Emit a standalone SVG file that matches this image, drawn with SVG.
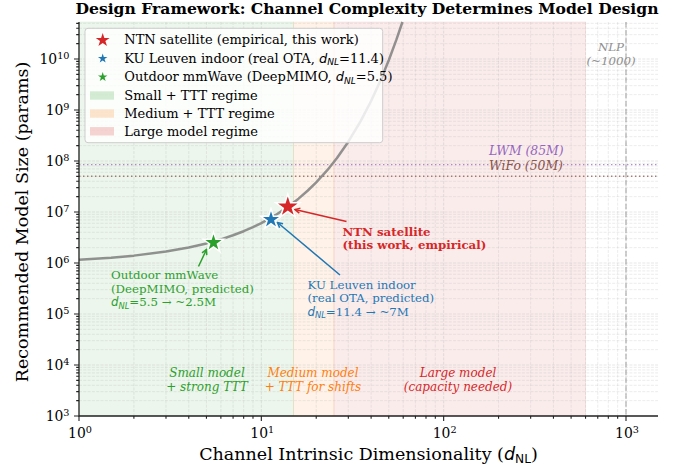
<svg xmlns="http://www.w3.org/2000/svg" width="694" height="470" viewBox="0 0 694 470">
<style>
text { font-family: "DejaVu Serif", "Liberation Serif", serif; fill: #000; }
.title { font-size: 15.6px; font-weight: bold; }
.tick { font-size: 13.9px; }
.sup { font-size: 9.7px; }
.axlab { font-size: 17.5px; }
.leg { font-size: 13px; }
.ann { font-size: 11.8px; }
.reg { font-size: 12px; font-style: italic; }
.it { font-style: italic; }
.math { font-family: "DejaVu Sans", "Liberation Sans", sans-serif; font-style: italic; }
.mrom { font-family: "DejaVu Sans", "Liberation Sans", sans-serif; }
.gmaj { stroke: #b0b0b0; stroke-opacity: 0.4; stroke-width: 0.8; stroke-dasharray: 3 1.3; fill: none; }
.gmin { stroke: #b0b0b0; stroke-opacity: 0.3; stroke-width: 0.8; stroke-dasharray: 3 1.3; fill: none; }
.tk { stroke: #222; stroke-width: 1.1; fill: none; }
.spine { stroke: #222; stroke-width: 1.3; fill: none; }
.green { fill: #2ca02c; }
.blue { fill: #1f77b4; }
.red { fill: #d62728; }
.orange { fill: #ff7f0e; }
</style>
<defs>
<path id="star" d="M0,-1 L0.2245,-0.309 L0.9511,-0.309 L0.3633,0.118 L0.5878,0.809 L0,0.382 L-0.5878,0.809 L-0.3633,0.118 L-0.9511,-0.309 L-0.2245,-0.309Z"/>
<marker id="ahR" viewBox="-7 -4 8 8" markerWidth="8" markerHeight="8" markerUnits="userSpaceOnUse" orient="auto" refX="0" refY="0"><path d="M-5,-2.6 L0,0 L-5,2.6" fill="none" stroke="#d62728" stroke-width="1.5"/></marker>
<marker id="ahB" viewBox="-7 -4 8 8" markerWidth="8" markerHeight="8" markerUnits="userSpaceOnUse" orient="auto" refX="0" refY="0"><path d="M-5,-2.6 L0,0 L-5,2.6" fill="none" stroke="#1f77b4" stroke-width="1.5"/></marker>
<marker id="ahG" viewBox="-7 -4 8 8" markerWidth="8" markerHeight="8" markerUnits="userSpaceOnUse" orient="auto" refX="0" refY="0"><path d="M-5,-2.6 L0,0 L-5,2.6" fill="none" stroke="#2ca02c" stroke-width="1.5"/></marker>
</defs>
<rect width="694" height="470" fill="#fff"/>

<g id="regions">
<rect x="79" y="22" width="214.5" height="394" fill="#2ca02c" fill-opacity="0.09" stroke="#2ca02c" stroke-opacity="0.09"/>
<rect x="293.5" y="22" width="40.4" height="394" fill="#ff7f0e" fill-opacity="0.09" stroke="#ff7f0e" stroke-opacity="0.09"/>
<rect x="333.9" y="22" width="251.6" height="394" fill="#d62728" fill-opacity="0.09" stroke="#d62728" stroke-opacity="0.09"/>
</g>

<g id="grid">
<path class="gmin" d="M79 400.65H658M79 391.67H658M79 385.29H658M79 380.35H658M79 376.31H658M79 372.9H658M79 369.94H658M79 367.33H658M79 349.65H658M79 340.67H658M79 334.29H658M79 329.35H658M79 325.31H658M79 321.9H658M79 318.94H658M79 316.33H658M79 298.65H658M79 289.67H658M79 283.29H658M79 278.35H658M79 274.31H658M79 270.9H658M79 267.94H658M79 265.33H658M79 247.65H658M79 238.67H658M79 232.29H658M79 227.35H658M79 223.31H658M79 219.9H658M79 216.94H658M79 214.33H658M79 196.65H658M79 187.67H658M79 181.29H658M79 176.35H658M79 172.31H658M79 168.9H658M79 165.94H658M79 163.33H658M79 145.65H658M79 136.67H658M79 130.29H658M79 125.35H658M79 121.31H658M79 117.9H658M79 114.94H658M79 112.33H658M79 94.65H658M79 85.67H658M79 79.29H658M79 74.35H658M79 70.31H658M79 66.9H658M79 63.94H658M79 61.33H658M79 43.65H658M79 34.67H658M79 28.29H658M79 23.35H658"/>
<path class="gmin" d="M133.89 22V416M165.99 22V416M188.78 22V416M206.44 22V416M220.88 22V416M233.09 22V416M243.66 22V416M252.99 22V416M316.22 22V416M348.32 22V416M371.11 22V416M388.77 22V416M403.21 22V416M415.42 22V416M425.99 22V416M435.32 22V416M498.55 22V416M530.65 22V416M553.44 22V416M571.1 22V416M585.54 22V416M597.75 22V416M608.32 22V416M617.65 22V416"/>
<path class="gmaj" d="M79 365H658M79 314H658M79 263H658M79 212H658M79 161H658M79 110H658M79 59H658M261.33 22V416M443.66 22V416M626 22V416"/>
</g>

<g id="reference-lines">
<line x1="79" y1="164.6" x2="658" y2="164.6" stroke="#9467bd" stroke-opacity="0.75" stroke-width="1.4" stroke-dasharray="1.4 2.6"/>
<line x1="79" y1="176.3" x2="658" y2="176.3" stroke="#8c564b" stroke-opacity="0.75" stroke-width="1.4" stroke-dasharray="1.4 2.6"/>
<line x1="626" y1="22" x2="626" y2="416" stroke="#7f7f7f" stroke-opacity="0.55" stroke-width="1.3" stroke-dasharray="5.5 2.4"/>
<text class="it" x="489" y="155" font-size="12.4" style="fill:#9467bd">LWM (85M)</text>
<text class="it" x="489" y="170" font-size="12.4" style="fill:#8c564b">WiFo (50M)</text>
<text class="it" x="611" y="51" font-size="11.8" text-anchor="middle" style="fill:#8f8f8f">NLP</text>
<text class="it" x="611" y="64.5" font-size="11.8" text-anchor="middle" style="fill:#8f8f8f">(~1000)</text>
</g>

<g id="region-labels">
<text class="reg green" x="207" y="377" text-anchor="middle">Small model</text>
<text class="reg green" x="207" y="391" text-anchor="middle">+ strong TTT</text>
<text class="reg orange" x="313" y="377" text-anchor="middle">Medium model</text>
<text class="reg orange" x="313" y="391" text-anchor="middle">+ TTT for shifts</text>
<text class="reg red" x="458" y="377" text-anchor="middle">Large model</text>
<text class="reg red" x="458" y="391" text-anchor="middle">(capacity needed)</text>
</g>

<g id="curve">
<path d="M79 259.7 L111.1 257.66 L133.89 255.63 L165.99 251.56 L188.78 247.49 L206.44 243.42 L220.88 239.35 L233.09 235.28 L243.66 231.21 L252.99 227.14 L261.33 223.07 L275.77 214.93 L287.97 206.79 L298.55 198.65 L307.87 190.51 L316.22 182.37 L327.29 170.17 L337 157.95 L348.32 141.67 L360.53 121.32 L371.11 100.97 L380.43 80.62 L388.77 60.27 L396.32 39.93 L402.42 22" fill="none" stroke="#7f7f7f" stroke-opacity="0.85" stroke-width="2.5" stroke-linejoin="round"/>
</g>

<g id="node-outdoor">
<use href="#star" transform="translate(213.5 242.7) scale(10.8)" fill="#2ca02c" stroke="#fff" stroke-width="0.14"/>
<text class="ann green" x="111" y="279">Outdoor mmWave</text>
<text class="ann green" x="111" y="292.5">(DeepMIMO, predicted)</text>
<text class="ann green" x="111" y="306"><tspan class="math">d</tspan><tspan class="math" font-size="8.3" dy="2.6">NL</tspan><tspan dy="-2.6">=5.5 → ~2.5M</tspan></text>
</g>

<g id="node-ku">
<use href="#star" transform="translate(271 219.6) scale(10.8)" fill="#1f77b4" stroke="#fff" stroke-width="0.14"/>
<text class="ann blue" x="307.5" y="288.5">KU Leuven indoor</text>
<text class="ann blue" x="307.5" y="302">(real OTA, predicted)</text>
<text class="ann blue" x="307.5" y="315.5"><tspan class="math">d</tspan><tspan class="math" font-size="8.3" dy="2.6">NL</tspan><tspan dy="-2.6">=11.4 → ~7M</tspan></text>
</g>

<g id="node-ntn">
<use href="#star" transform="translate(287.8 206.7) scale(12.6)" fill="#d62728" stroke="#fff" stroke-width="0.12"/>
<text class="ann red" x="342.5" y="236" font-weight="bold">NTN satellite</text>
<text class="ann red" x="342.5" y="249" font-weight="bold">(this work, empirical)</text>
</g>

<g id="connectors">
<line x1="346.5" y1="221.5" x2="295" y2="209.5" stroke="#d62728" stroke-width="1.5" marker-end="url(#ahR)"/>
<line x1="340" y1="275" x2="277.5" y2="222.5" stroke="#1f77b4" stroke-width="1.5" marker-end="url(#ahB)"/>
<line x1="198.5" y1="266.5" x2="206.5" y2="249.5" stroke="#2ca02c" stroke-width="1.5" marker-end="url(#ahG)"/>
</g>

<g id="axes">
<path class="spine" d="M79 22V416H658"/>
<path class="tk" d="M74 416H79M74 365H79M74 314H79M74 263H79M74 212H79M74 161H79M74 110H79M74 59H79M79 416V421M261.33 416V421M443.66 416V421M626 416V421"/>
<path class="tk" stroke-width="0.8" d="M76.2 400.65H79M76.2 391.67H79M76.2 385.29H79M76.2 380.35H79M76.2 376.31H79M76.2 372.9H79M76.2 369.94H79M76.2 367.33H79M76.2 349.65H79M76.2 340.67H79M76.2 334.29H79M76.2 329.35H79M76.2 325.31H79M76.2 321.9H79M76.2 318.94H79M76.2 316.33H79M76.2 298.65H79M76.2 289.67H79M76.2 283.29H79M76.2 278.35H79M76.2 274.31H79M76.2 270.9H79M76.2 267.94H79M76.2 265.33H79M76.2 247.65H79M76.2 238.67H79M76.2 232.29H79M76.2 227.35H79M76.2 223.31H79M76.2 219.9H79M76.2 216.94H79M76.2 214.33H79M76.2 196.65H79M76.2 187.67H79M76.2 181.29H79M76.2 176.35H79M76.2 172.31H79M76.2 168.9H79M76.2 165.94H79M76.2 163.33H79M76.2 145.65H79M76.2 136.67H79M76.2 130.29H79M76.2 125.35H79M76.2 121.31H79M76.2 117.9H79M76.2 114.94H79M76.2 112.33H79M76.2 94.65H79M76.2 85.67H79M76.2 79.29H79M76.2 74.35H79M76.2 70.31H79M76.2 66.9H79M76.2 63.94H79M76.2 61.33H79M76.2 43.65H79M76.2 34.67H79M76.2 28.29H79M76.2 23.35H79M133.89 416V418.8M165.99 416V418.8M188.78 416V418.8M206.44 416V418.8M220.88 416V418.8M233.09 416V418.8M243.66 416V418.8M252.99 416V418.8M316.22 416V418.8M348.32 416V418.8M371.11 416V418.8M388.77 416V418.8M403.21 416V418.8M415.42 416V418.8M425.99 416V418.8M435.32 416V418.8M498.55 416V418.8M530.65 416V418.8M553.44 416V418.8M571.1 416V418.8M585.54 416V418.8M597.75 416V418.8M608.32 416V418.8M617.65 416V418.8"/>
<g text-anchor="end">
<text class="tick" x="69.5" y="421.3">10<tspan class="sup" dy="-5.5">3</tspan></text>
<text class="tick" x="69.5" y="370.3">10<tspan class="sup" dy="-5.5">4</tspan></text>
<text class="tick" x="69.5" y="319.3">10<tspan class="sup" dy="-5.5">5</tspan></text>
<text class="tick" x="69.5" y="268.3">10<tspan class="sup" dy="-5.5">6</tspan></text>
<text class="tick" x="69.5" y="217.3">10<tspan class="sup" dy="-5.5">7</tspan></text>
<text class="tick" x="69.5" y="166.3">10<tspan class="sup" dy="-5.5">8</tspan></text>
<text class="tick" x="69.5" y="115.3">10<tspan class="sup" dy="-5.5">9</tspan></text>
<text class="tick" x="69.5" y="64.3">10<tspan class="sup" dy="-5.5">10</tspan></text>
</g>
<g text-anchor="middle">
<text class="tick" x="80" y="438">10<tspan class="sup" dy="-5.5">0</tspan></text>
<text class="tick" x="262.3" y="438">10<tspan class="sup" dy="-5.5">1</tspan></text>
<text class="tick" x="444.7" y="438">10<tspan class="sup" dy="-5.5">2</tspan></text>
<text class="tick" x="627" y="438">10<tspan class="sup" dy="-5.5">3</tspan></text>
</g>
<text class="axlab" x="368.5" y="460" text-anchor="middle">Channel Intrinsic Dimensionality (<tspan class="math">d</tspan><tspan class="mrom" font-size="12.2" dy="3.4">NL</tspan><tspan dy="-3.4">)</tspan></text>
<text class="axlab" transform="translate(27.5 222) rotate(-90)" x="0" y="0" text-anchor="middle">Recommended Model Size (params)</text>
</g>

<g id="title">
<text class="title" x="367" y="14" text-anchor="middle">Design Framework: Channel Complexity Determines Model Design</text>
</g>

<g id="legend">
<rect x="85" y="28.3" width="297.7" height="114.4" rx="3" fill="#fff" fill-opacity="0.82" stroke="#cccccc" stroke-width="1"/>
<use href="#star" transform="translate(102.7 40.2) scale(7.3)" fill="#d62728"/>
<use href="#star" transform="translate(102.7 58.5) scale(5)" fill="#1f77b4"/>
<use href="#star" transform="translate(102.7 77) scale(5)" fill="#2ca02c"/>
<rect x="90" y="91.3" width="24" height="8.4" fill="#2ca02c" fill-opacity="0.2"/>
<rect x="90" y="109.3" width="24" height="8.4" fill="#ff7f0e" fill-opacity="0.2"/>
<rect x="90" y="127.1" width="24" height="8.4" fill="#d62728" fill-opacity="0.2"/>
<text class="leg" x="124.3" y="44">NTN satellite (empirical, this work)</text>
<text class="leg" x="124.3" y="62.5">KU Leuven indoor (real OTA, <tspan class="math">d</tspan><tspan class="math" font-size="9" dy="2.8">NL</tspan><tspan dy="-2.8">=11.4)</tspan></text>
<text class="leg" x="124.3" y="81">Outdoor mmWave (DeepMIMO, <tspan class="math">d</tspan><tspan class="math" font-size="9" dy="2.8">NL</tspan><tspan dy="-2.8">=5.5)</tspan></text>
<text class="leg" x="124.3" y="100">Small + TTT regime</text>
<text class="leg" x="124.3" y="118">Medium + TTT regime</text>
<text class="leg" x="124.3" y="135.8">Large model regime</text>
</g>
</svg>
